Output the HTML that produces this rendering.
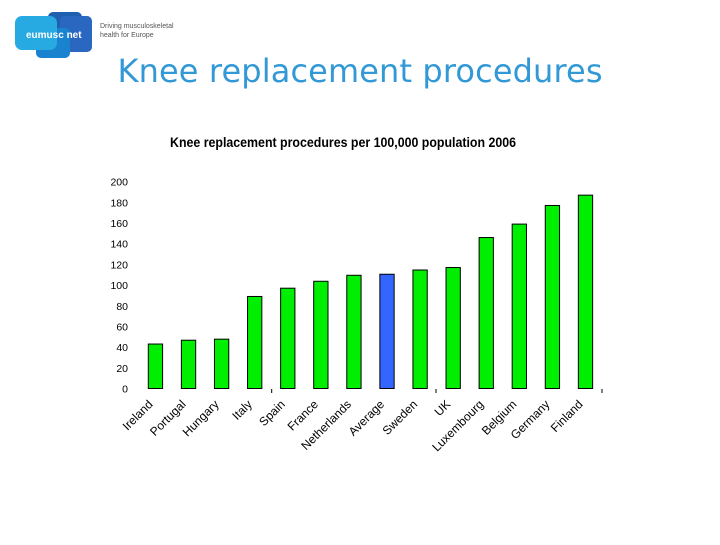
<!DOCTYPE html>
<html><head><meta charset="utf-8"><style>
body{margin:0;background:#fff;width:720px;height:540px;overflow:hidden;font-family:"Liberation Sans",sans-serif}
</style></head><body>
<svg width="720" height="540" viewBox="0 0 720 540">
<g>
 <rect x="48" y="12" width="34" height="30" rx="5" fill="#1f5fb0"/>
 <rect x="60" y="16" width="32" height="36" rx="5" fill="#2a67c0"/>
 <rect x="36" y="28" width="34" height="30" rx="5" fill="#1a83cf"/>
 <rect x="15" y="16" width="42" height="34" rx="7" fill="#27a9e1"/>
 <text x="26" y="38" font-size="10" font-weight="bold" fill="#fff">eumusc net</text>
 <text x="100" y="28" font-size="7" fill="#555">Driving musculoskeletal</text>
 <text x="100" y="37" font-size="7" fill="#555">health for Europe</text>
</g>
<text x="360" y="82" text-anchor="middle" font-family="'DejaVu Sans',sans-serif" font-size="32" textLength="485" fill="#3399d6">Knee replacement procedures</text>
<text x="343" y="147" text-anchor="middle" font-size="13.5" font-weight="bold" textLength="346" lengthAdjust="spacingAndGlyphs" fill="#000">Knee replacement procedures per 100,000 population 2006</text>
<g id="chart"></g>
</svg>
<script>
const categories=["Ireland","Portugal","Hungary","Italy","Spain","France","Netherlands","Average","Sweden","UK","Luxembourg","Belgium","Germany","Finland"];
const values=[43,46.7,47.7,89,97,103.7,109.5,110.5,114.6,117,146,159,177,187];
const yTicks=[0,20,40,60,80,100,120,140,160,180,200];
const NS="http://www.w3.org/2000/svg";
const g=document.getElementById('chart');
const y0=388.5,y200=181.7;
function yScale(v){return y0-(y0-y200)*v/200;}
function xScale(i){return 148.3+i*33.08;}
const bw=14.3;
function mk(t,a){const e=document.createElementNS(NS,t);for(const k in a)e.setAttribute(k,a[k]);g.appendChild(e);return e;}
yTicks.forEach(v=>{
 const t=mk('text',{x:128,y:yScale(v)+4,'text-anchor':'end','font-size':'10.5',fill:'#000'});
 t.textContent=v;
 
 
});
[271.7,436,602].forEach(x=>{
 const l=mk('line',{x1:x,x2:x,y1:389,y2:393,stroke:'#000','stroke-width':1});
 
 
});
categories.forEach((c,i)=>{
 const x=xScale(i),y=yScale(values[i]);
 const r=mk('rect',{x:x,y:y,width:bw,height:y0-y,fill:c==='Average'?'#3366ff':'#00ee00',stroke:'#000','stroke-width':1});
 
 
 const cx=x+bw/2-2,cy=405;
 const t=mk('text',{x:cx,y:cy,'text-anchor':'end','font-size':'12',fill:'#000',transform:`rotate(-45 ${cx} ${cy})`});
 t.textContent=c;
 
 
});
</script>
</body></html>
